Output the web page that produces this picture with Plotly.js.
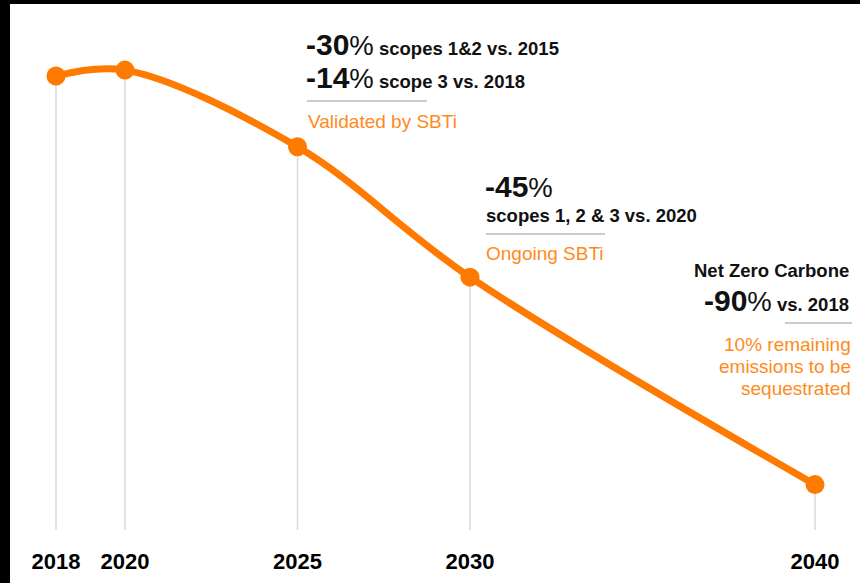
<!DOCTYPE html>
<html>
<head>
<meta charset="utf-8">
<script src="https://cdn.plot.ly/plotly-3.0.1.min.js"></script>
<style>
  html, body { margin: 0; padding: 0; background: #000; width: 860px; height: 583px; overflow: hidden; }
  #chart { position: absolute; left: 10px; top: 4px; width: 850px; height: 579px; }
</style>
</head>
<body>
<div id="chart"></div>
<script>
// ---- data ----
const years = [2018, 2020, 2025, 2030, 2040];
const emissionsIndex = [100, 101.3, 84.4, 55.7, 10];
const tickLabels = ['2018', '2020', '2025', '2030', '2040'];

const ORANGE = '#FF7A00';
const TEXT_ORANGE = '#FF8A1C';
const FONT = 'Liberation Sans, Arial, Helvetica, sans-serif';

// page-pixel helpers for annotation placement (plot area: x 10..860, y 14..530)
const px = x => (x - 10) / 850;
const py = y => (530 - y) / 516;

const traces = [];
// vertical guide lines from baseline to each point
years.forEach((yr, i) => {
  traces.push({
    x: [yr, yr], y: [0, emissionsIndex[i]],
    mode: 'lines', line: {color: '#d9d9d9', width: 1.5},
    hoverinfo: 'skip', showlegend: false
  });
});
traces.push({
  x: years, y: emissionsIndex,
  mode: 'lines+markers',
  line: {color: ORANGE, width: 7, shape: 'spline', smoothing: 1},
  marker: {color: ORANGE, size: 19},
  showlegend: false
});

const big = t => `<span style="font-size:30px"><b>${t}</b></span><span style="font-size:27.5px">%</span>`;

function ann(text, x, y, xanchor, color, size) {
  return {
    xref: 'paper', yref: 'paper', x: px(x), y: py(y),
    xanchor: xanchor, yanchor: 'middle', showarrow: false,
    text: text, align: xanchor === 'right' ? 'right' : 'left',
    font: {family: FONT, size: size || 18.5, color: color || '#111'}
  };
}

const annotations = [
  ann(big('-30') + ' <b>scopes 1&amp;2 vs. 2015</b>', 304, 44.5, 'left'),
  ann(big('-14') + ' <b>scope 3 vs. 2018</b>', 304, 77.5, 'left'),
  ann('Validated by SBTi', 306, 121, 'left', TEXT_ORANGE, 19),
  ann(big('-45'), 483, 186, 'left'),
  ann('<b>scopes 1, 2 &amp; 3 vs. 2020</b>', 484, 215.5, 'left'),
  ann('Ongoing SBTi', 484, 253, 'left', TEXT_ORANGE, 19),
  ann('<b>Net Zero Carbone</b>', 851, 270.5, 'right'),
  ann(big('-90') + ' <b>vs. 2018</b>', 851, 300, 'right'),
  ann('10% remaining', 853, 344, 'right', TEXT_ORANGE, 19),
  ann('emissions to be', 853, 366, 'right', TEXT_ORANGE, 19),
  ann('sequestrated', 853, 388, 'right', TEXT_ORANGE, 19)
];

const hline = (x0, x1, y) => ({
  type: 'line', xref: 'paper', yref: 'paper',
  x0: px(x0), x1: px(x1), y0: py(y), y1: py(y),
  line: {color: '#999', width: 1.2}
});

const layout = {
  width: 850, height: 579,
  margin: {l: 0, r: 0, t: 10, b: 53},
  paper_bgcolor: '#fff', plot_bgcolor: '#fff',
  showlegend: false,
  xaxis: {
    range: [2016.667, 2041.304],
    tickvals: years, ticktext: tickLabels,
    showgrid: false, zeroline: false, showline: false, ticks: '',
    ticklabelstandoff: 16,
    tickfont: {family: FONT, size: 22, color: '#000', weight: 'bold'}
  },
  yaxis: {
    range: [0, 113.66], visible: false, showgrid: false, zeroline: false
  },
  annotations: annotations,
  shapes: [hline(307, 427, 101), hline(486, 605, 234), hline(785, 852, 323)]
};

Plotly.newPlot('chart', traces, layout, {displayModeBar: false, staticPlot: true});
</script>
</body>
</html>
